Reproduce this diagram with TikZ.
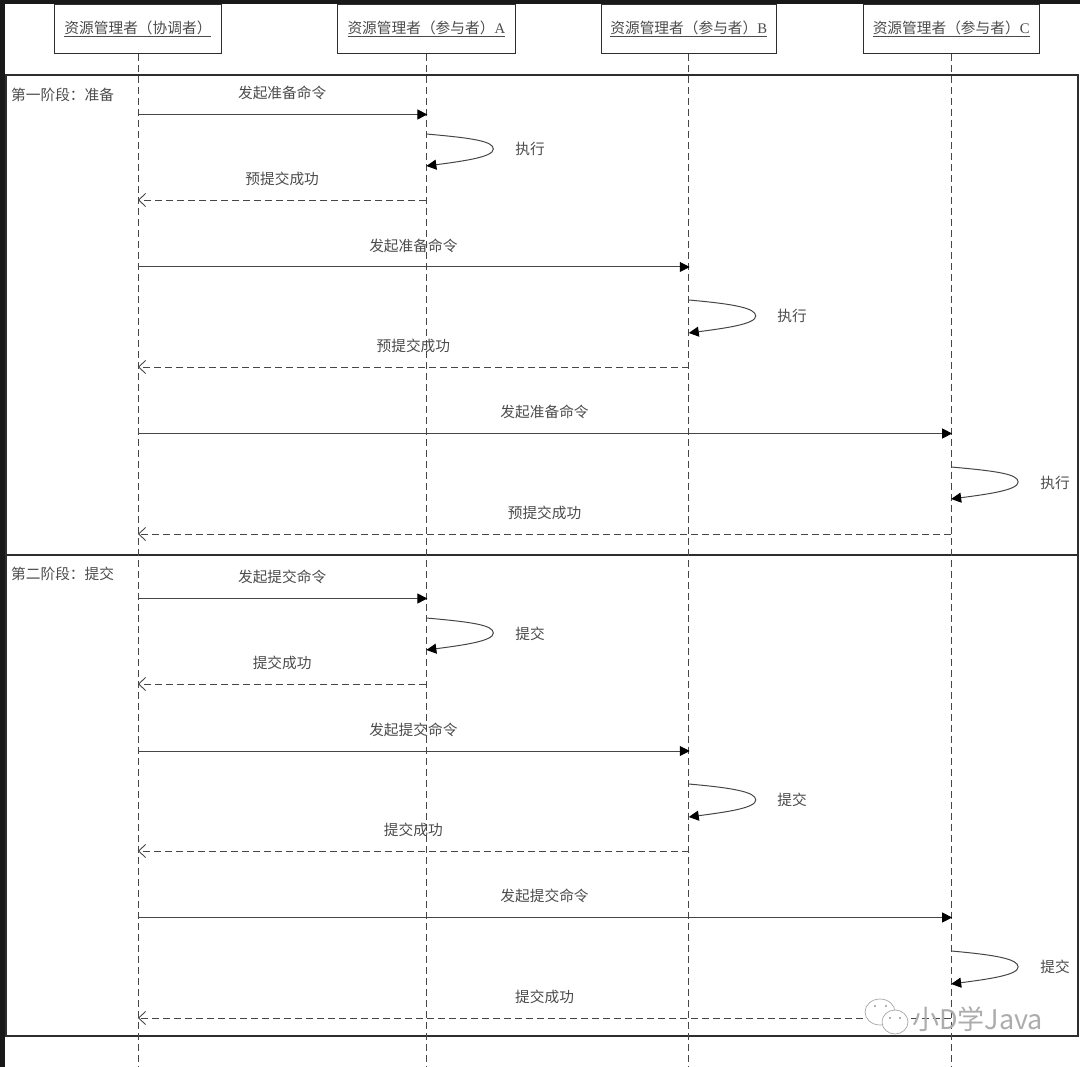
\documentclass[tikz,border=0pt]{standalone}
\usepackage{fontspec}
\setmainfont{Liberation Serif}
\newfontfamily\cjk{Noto Sans CJK SC}
\usetikzlibrary{shapes,arrows.meta,positioning}
\definecolor{FrameGray}{RGB}{45, 45, 45}
\definecolor{LineGray}{RGB}{70, 70, 70}
\definecolor{TextGray}{RGB}{75, 75, 75}
\newcommand{\headfont}{\cjk\fontsize{14.7}{17}\selectfont}

\begin{document}
\begin{tikzpicture}[
    x=1pt, y=-1pt,
    head/.style={draw=FrameGray, fill=white, line width=0.9pt, rectangle, minimum height=49pt, inner sep=0pt, align=center, text=TextGray, font=\headfont},
    lifeline/.style={LineGray, line width=0.9pt, dash pattern=on 7pt off 4pt},
    frame/.style={draw=FrameGray, line width=1.1pt},
    call/.style={-{Triangle[length=10pt,width=10pt,color=black]}, shorten >=-1pt, LineGray, line width=1pt},
    reply/.style={-{Straight Barb[length=7pt,width=13pt]}, LineGray, line width=0.9pt, dash pattern=on 7pt off 4pt},
    turn/.style={-{Triangle[length=10pt,width=10pt,color=black]}, LineGray, line width=1pt},
    msg/.style={text=TextGray, font=\headfont, inner sep=0pt, above=14pt},
    note/.style={text=TextGray, font=\headfont, inner sep=0pt}
  ]
    \useasboundingbox (0,0) rectangle (1080,1067);
    \fill[black!90] (0,0) rectangle (1080,4);
    \fill[black!90] (0,0) rectangle (5,1067);

    % the two phases
    \draw[frame] (6,75) rectangle (1078,555);
    \draw[frame] (6,555) rectangle (1078,1036);
    \node[note, anchor=west] (phase1) at (11,95) {第一阶段：准备};
    \node[note, anchor=west] (phase2) at (11,574) {第二阶段：提交};

    % participants
    \node[head, minimum width=167pt, anchor=north west] (lead) at (54,4) {\underline{资源管理者（协调者）}};
    \node[head, minimum width=178pt, right=115pt of lead] (partA) {\underline{资源管理者（参与者）{\rmfamily A}}};
    \node[head, minimum width=175pt, right=85pt of partA] (partB) {\underline{资源管理者（参与者）{\rmfamily B}}};
    \node[head, minimum width=176pt, right=86pt of partB] (partC) {\underline{资源管理者（参与者）{\rmfamily C}}};

    \coordinate (endL) at (lead.south |- 0,1067);
    \coordinate (endA) at (partA.south |- 0,1067);
    \coordinate (endB) at (partB.south |- 0,1067);
    \coordinate (endC) at (partC.south |- 0,1067);
    \draw[lifeline] (lead) -- (endL);
    \draw[lifeline] (partA) -- (endA);
    \draw[lifeline] (partB) -- (endB);
    \draw[lifeline] (partC) -- (endC);

    % first phase, A
    \coordinate (l1) at (lead |- 0,114.5);
    \coordinate (a1) at (partA |- 0,114.5);
    \coordinate (a2) at (partA |- 0,134);
    \coordinate (a3) at (partA |- 0,166);
    \coordinate (a4) at (partA |- 0,200);
    \coordinate (l2) at (lead |- 0,200);
    \draw[call] (l1) -- node[msg] (m1) {发起准备命令} (a1);
    \draw[turn] (a2) .. controls +(45,4) and +(0,-8) .. ++(67,15) .. controls +(0,8) and +(38,-5) .. (a3);
    \node[note] (n1) at (530,149) {执行};
    \draw[reply] (a4) -- node[msg] (m2) {预提交成功} (l2);

    % first phase, B
    \coordinate (l3) at (lead |- 0,267);
    \coordinate (b1) at (partB |- 0,267);
    \coordinate (b2) at (partB |- 0,300);
    \coordinate (b3) at (partB |- 0,333);
    \coordinate (b4) at (partB |- 0,367);
    \coordinate (l4) at (lead |- 0,367);
    \draw[call] (l3) -- node[msg] (m3) {发起准备命令} (b1);
    \draw[turn] (b2) .. controls +(45,4) and +(0,-8) .. ++(67,16) .. controls +(0,8) and +(38,-5) .. (b3);
    \node[note] (n2) at (792,316) {执行};
    \draw[reply] (b4) -- node[msg] (m4) {预提交成功} (l4);

    % first phase, C
    \coordinate (l5) at (lead |- 0,433.5);
    \coordinate (c1) at (partC |- 0,433.5);
    \coordinate (c2) at (partC |- 0,467);
    \coordinate (c3) at (partC |- 0,499);
    \coordinate (c4) at (partC |- 0,534);
    \coordinate (l6) at (lead |- 0,534);
    \draw[call] (l5) -- node[msg] (m5) {发起准备命令} (c1);
    \draw[turn] (c2) .. controls +(45,4) and +(0,-8) .. ++(67,15) .. controls +(0,8) and +(38,-5) .. (c3);
    \node[note] (n3) at (1055,483) {执行};
    \draw[reply] (c4) -- node[msg] (m6) {预提交成功} (l6);

    % second phase, A
    \coordinate (l7) at (lead |- 0,598.5);
    \coordinate (a5) at (partA |- 0,598.5);
    \coordinate (a6) at (partA |- 0,618);
    \coordinate (a7) at (partA |- 0,650);
    \coordinate (a8) at (partA |- 0,684);
    \coordinate (l8) at (lead |- 0,684);
    \draw[call] (l7) -- node[msg] (m7) {发起提交命令} (a5);
    \draw[turn] (a6) .. controls +(45,4) and +(0,-8) .. ++(67,15) .. controls +(0,8) and +(38,-5) .. (a7);
    \node[note] (n4) at (530,634) {提交};
    \draw[reply] (a8) -- node[msg] (m8) {提交成功} (l8);

    % second phase, B
    \coordinate (l9) at (lead |- 0,751);
    \coordinate (b5) at (partB |- 0,751);
    \coordinate (b6) at (partB |- 0,784);
    \coordinate (b7) at (partB |- 0,817);
    \coordinate (b8) at (partB |- 0,851);
    \coordinate (l10) at (lead |- 0,851);
    \draw[call] (l9) -- node[msg] (m9) {发起提交命令} (b5);
    \draw[turn] (b6) .. controls +(45,4) and +(0,-8) .. ++(67,16) .. controls +(0,8) and +(38,-5) .. (b7);
    \node[note] (n5) at (792,800) {提交};
    \draw[reply] (b8) -- node[msg] (m10) {提交成功} (l10);

    % second phase, C
    \coordinate (l11) at (lead |- 0,917.5);
    \coordinate (c5) at (partC |- 0,917.5);
    \coordinate (c6) at (partC |- 0,951);
    \coordinate (c7) at (partC |- 0,984);
    \coordinate (c8) at (partC |- 0,1018);
    \coordinate (l12) at (lead |- 0,1018);
    \draw[call] (l11) -- node[msg] (m11) {发起提交命令} (c5);
    \draw[turn] (c6) .. controls +(45,4) and +(0,-8) .. ++(67,16) .. controls +(0,8) and +(38,-5) .. (c7);
    \node[note] (n6) at (1055,967) {提交};
    \draw[reply] (c8) -- node[msg] (m12) {提交成功} (l12);

    % watermark
    \draw[gray!70, fill=white, line width=0.7pt] (880,1012) ellipse (15 and 13);
    \draw[gray!70, fill=white, line width=0.7pt] (895,1022) ellipse (13 and 12);
    \fill[gray!80] (875,1006) circle (1.2) (886,1006) circle (1.2) (890,1018) circle (1.2) (900,1018) circle (1.2);
    \node[text=gray!65, font=\cjk\fontsize{27}{29}\selectfont, anchor=west, inner sep=0pt] (mark) at (912,1019) {小D学Java};
\end{tikzpicture}
\end{document}
